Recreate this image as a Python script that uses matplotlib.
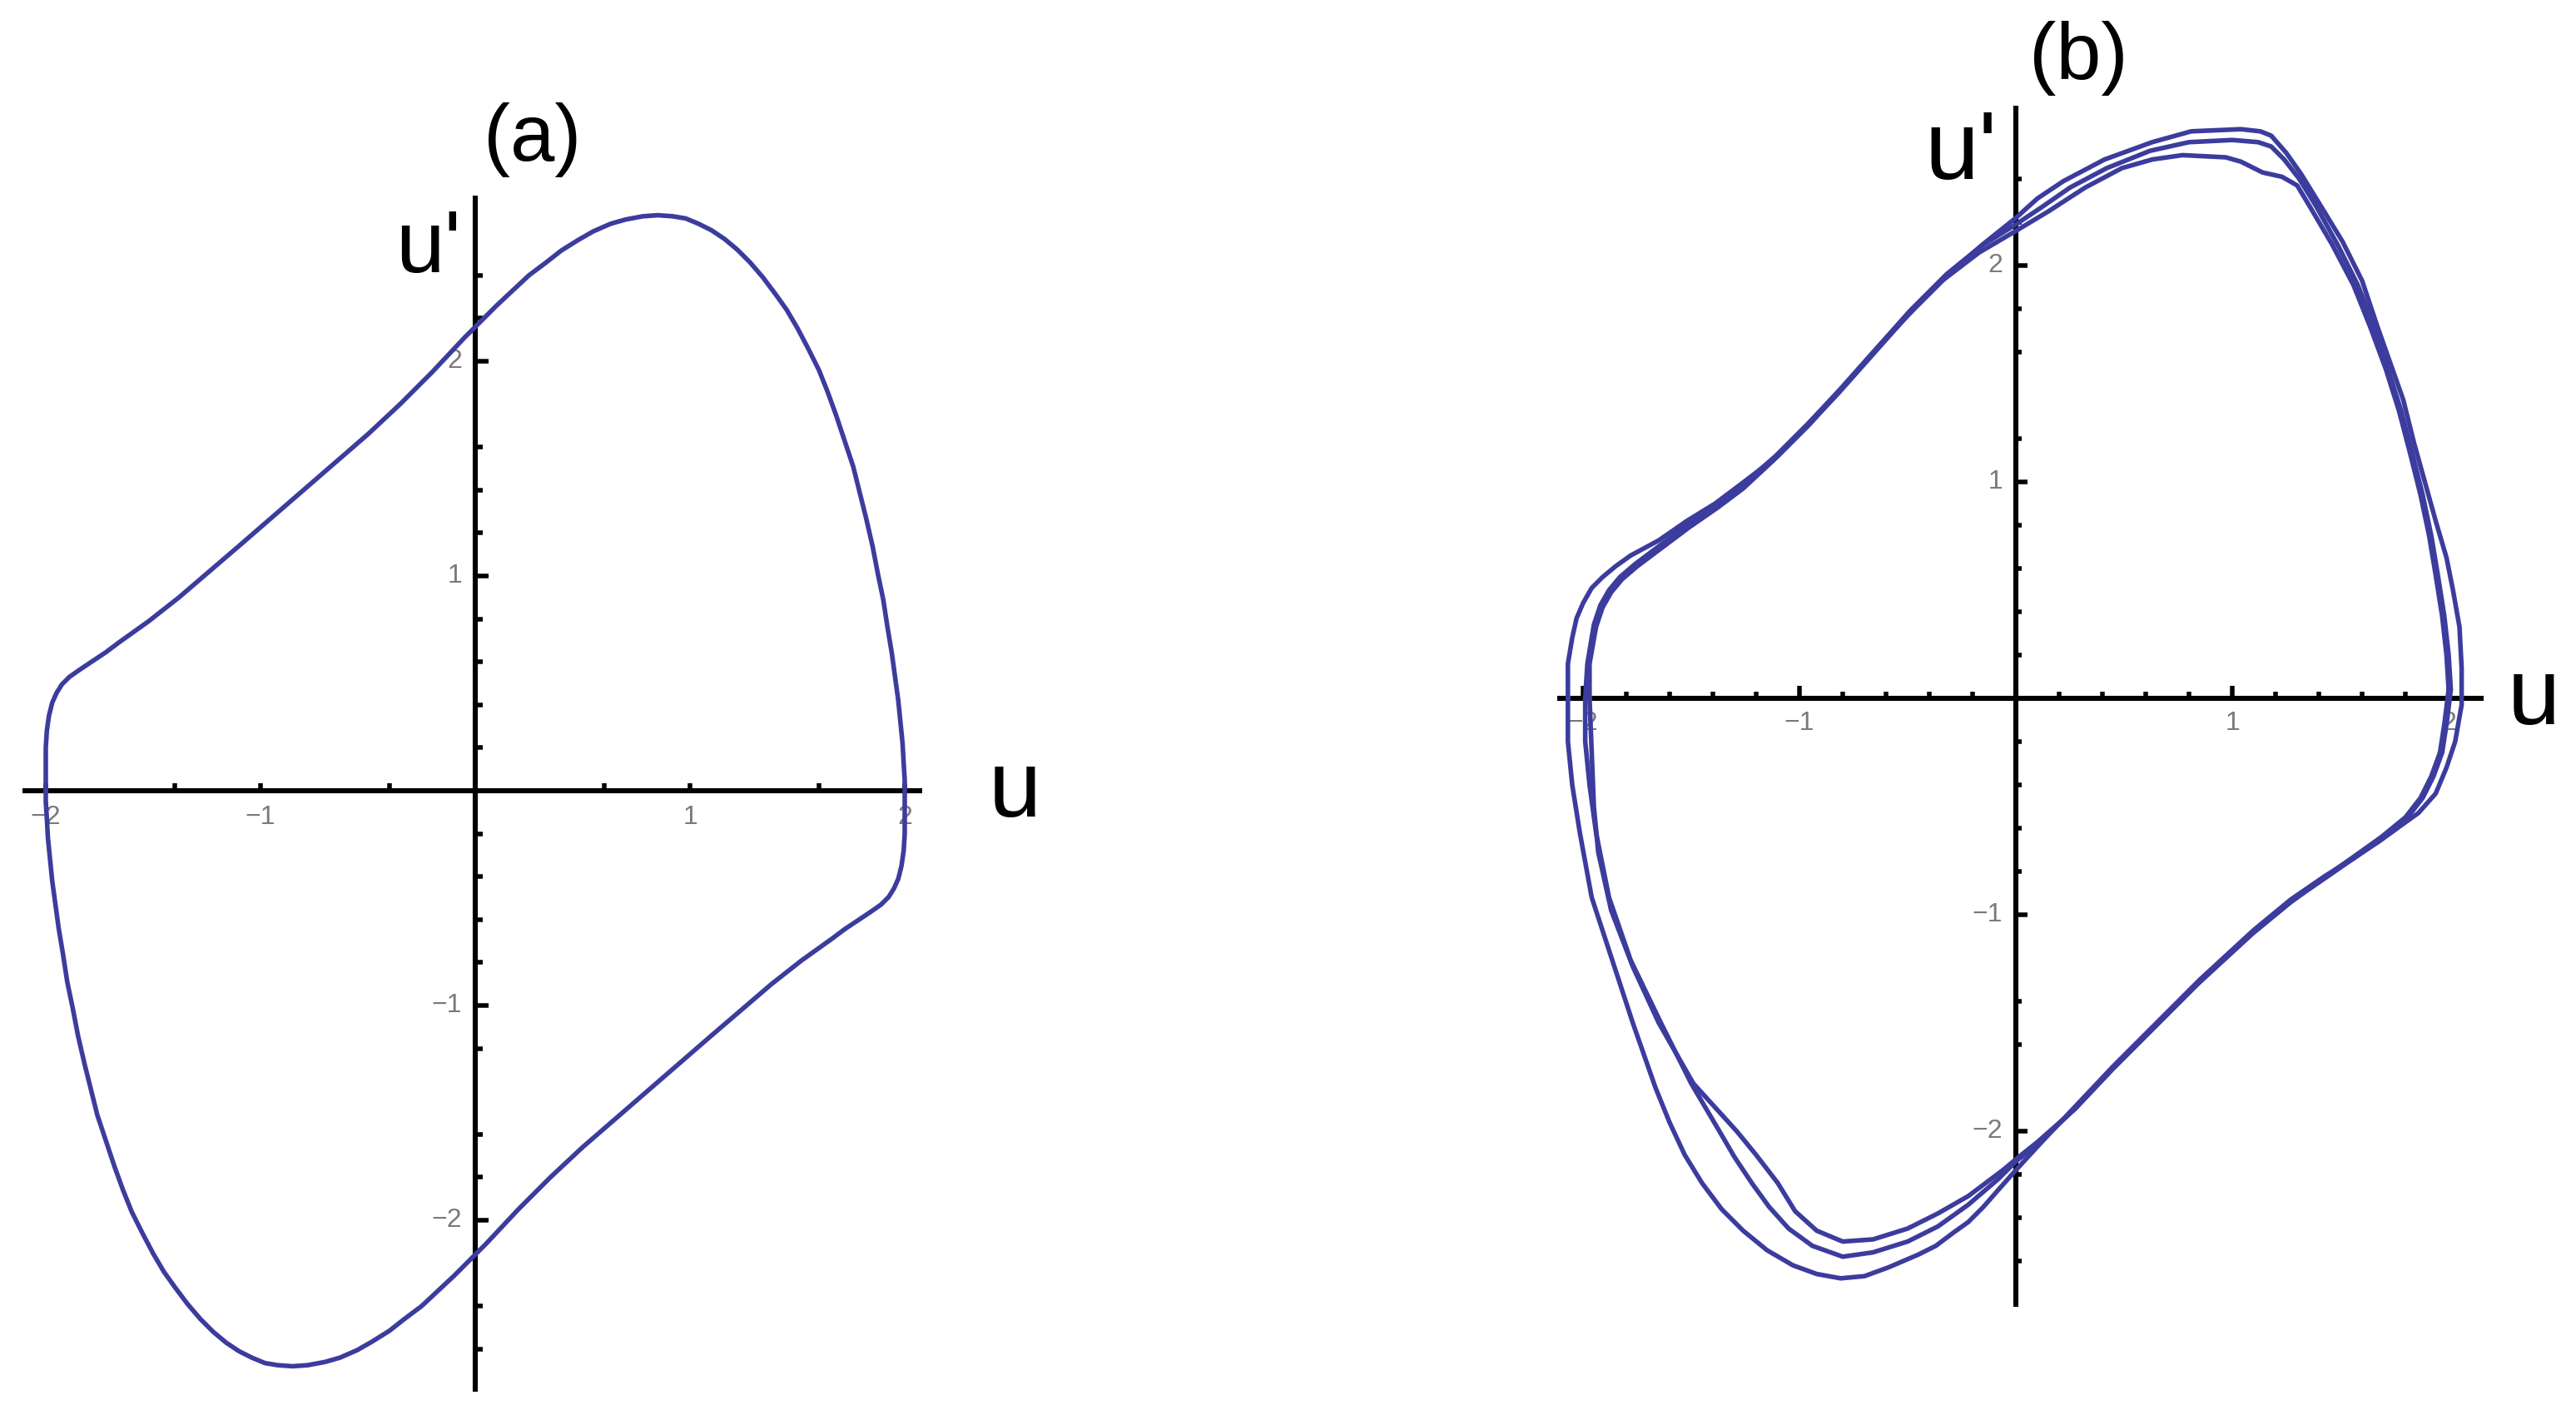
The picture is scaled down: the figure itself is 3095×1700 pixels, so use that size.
import matplotlib
matplotlib.use("Agg")
import matplotlib.pyplot as plt

# ---------------- data ----------------
# panel (a): single closed orbit (u, u')
a_u = [-2.00, -2.00, -2.00, -1.995, -1.985, -1.97, -1.95, -1.925, -1.89, -1.84,
       -1.78, -1.72, -1.66, -1.59, -1.52, -1.45, -1.38, -1.24, -1.10, -0.95,
       -0.80, -0.65, -0.50, -0.35, -0.20, -0.05, 0.10, 0.25, 0.33, 0.40,
       0.48, 0.55, 0.63, 0.70, 0.78, 0.85, 0.92, 0.98, 1.04, 1.10,
       1.16, 1.22, 1.28, 1.34, 1.40, 1.45, 1.50, 1.55, 1.60, 1.64,
       1.68, 1.72, 1.76, 1.79, 1.82, 1.85, 1.875, 1.90, 1.92, 1.94,
       1.955, 1.97, 1.98, 1.99, 1.995, 2.00,
       2.00, 2.00, 2.00, 1.995, 1.985, 1.97, 1.95, 1.925, 1.89, 1.84,
       1.78, 1.72, 1.66, 1.59, 1.52, 1.45, 1.38, 1.24, 1.10, 0.95,
       0.80, 0.65, 0.50, 0.35, 0.20, 0.05, -0.10, -0.25, -0.33, -0.40,
       -0.48, -0.55, -0.63, -0.70, -0.78, -0.85, -0.92, -0.98, -1.04, -1.10,
       -1.16, -1.22, -1.28, -1.34, -1.40, -1.45, -1.50, -1.55, -1.60, -1.64,
       -1.68, -1.72, -1.76, -1.79, -1.82, -1.85, -1.875, -1.90, -1.92, -1.94,
       -1.955, -1.97, -1.98, -1.99, -1.995, -2.00, -2.00]
a_v = [0.00, 0.10, 0.20, 0.28, 0.35, 0.41, 0.455, 0.495, 0.53, 0.565,
       0.605, 0.645, 0.69, 0.74, 0.79, 0.845, 0.90, 1.02, 1.14, 1.27,
       1.40, 1.53, 1.66, 1.80, 1.95, 2.11, 2.26, 2.40, 2.46, 2.515,
       2.565, 2.605, 2.64, 2.66, 2.675, 2.68, 2.675, 2.665, 2.64, 2.61,
       2.57, 2.52, 2.46, 2.39, 2.31, 2.24, 2.155, 2.06, 1.96, 1.86,
       1.75, 1.63, 1.51, 1.39, 1.27, 1.14, 1.01, 0.89, 0.76, 0.64,
       0.53, 0.42, 0.32, 0.22, 0.13, 0.05,
       0.00, -0.10, -0.20, -0.28, -0.35, -0.41, -0.455, -0.495, -0.53, -0.565,
       -0.605, -0.645, -0.69, -0.74, -0.79, -0.845, -0.90, -1.02, -1.14, -1.27,
       -1.40, -1.53, -1.66, -1.80, -1.95, -2.11, -2.26, -2.40, -2.46, -2.515,
       -2.565, -2.605, -2.64, -2.66, -2.675, -2.68, -2.675, -2.665, -2.64, -2.61,
       -2.57, -2.52, -2.46, -2.39, -2.31, -2.24, -2.155, -2.06, -1.96, -1.86,
       -1.75, -1.63, -1.51, -1.39, -1.27, -1.14, -1.01, -0.89, -0.76, -0.64,
       -0.53, -0.42, -0.32, -0.22, -0.13, -0.05, 0.00]

# panel (b): three nearly coincident loops
b1_u = [-2.07, -2.07, -2.05, -2.03, -2.00, -1.96, -1.91, -1.85, -1.78, -1.65,
        -1.52, -1.39, -1.27, -1.10, -0.95, -0.80, -0.64, -0.47, -0.30, -0.15,
        0.00, 0.10, 0.22, 0.41, 0.63, 0.81, 1.04, 1.13, 1.18, 1.25,
        1.32, 1.40, 1.51, 1.60, 1.67, 1.73, 1.79, 1.84, 1.89, 1.94,
        1.99, 2.02, 2.05, 2.06, 2.06, 2.03, 1.99, 1.94, 1.86, 1.79,
        1.68, 1.56, 1.43, 1.27, 1.10, 0.85, 0.65, 0.45, 0.28, 0.11,
        0.00, -0.08, -0.15, -0.22, -0.29, -0.37, -0.45, -0.59, -0.70, -0.81,
        -0.92, -1.03, -1.15, -1.26, -1.36, -1.45, -1.53, -1.60, -1.665, -1.77,
        -1.865, -1.96, -2.015, -2.05, -2.07, -2.07]
b1_v = [0.00, 0.16, 0.28, 0.37, 0.44, 0.51, 0.56, 0.61, 0.66, 0.73,
        0.82, 0.90, 0.99, 1.12, 1.27, 1.44, 1.62, 1.80, 1.97, 2.10,
        2.22, 2.31, 2.39, 2.49, 2.57, 2.62, 2.63, 2.62, 2.60, 2.52,
        2.42, 2.29, 2.11, 1.93, 1.72, 1.55, 1.38, 1.18, 1.00, 0.82,
        0.65, 0.50, 0.33, 0.14, -0.03, -0.20, -0.32, -0.44, -0.53, -0.58,
        -0.66, -0.74, -0.82, -0.93, -1.07, -1.30, -1.50, -1.70, -1.88, -2.06,
        -2.18, -2.27, -2.35, -2.42, -2.47, -2.53, -2.57, -2.63, -2.67, -2.68,
        -2.66, -2.62, -2.55, -2.46, -2.36, -2.24, -2.11, -1.96, -1.80, -1.50,
        -1.21, -0.92, -0.62, -0.40, -0.20, 0.00]

b2_u = [-1.99, -1.98, -1.95, -1.92, -1.88, -1.83, -1.76, -1.64, -1.52, -1.39,
        -1.27, -1.11, -0.96, -0.81, -0.65, -0.49, -0.32, -0.16, 0.00, 0.12,
        0.25, 0.42, 0.62, 0.80, 1.00, 1.12, 1.18, 1.24, 1.31, 1.39,
        1.49, 1.58, 1.66, 1.72, 1.78, 1.83, 1.88, 1.92, 1.95, 1.98,
        2.00, 2.01, 1.99, 1.97, 1.93, 1.88, 1.81, 1.70, 1.56, 1.43,
        1.27, 1.10, 0.85, 0.65, 0.45, 0.28, 0.11, 0.00, -0.08, -0.22,
        -0.36, -0.50, -0.66, -0.80, -0.94, -1.05, -1.14, -1.22, -1.30, -1.37,
        -1.50, -1.64, -1.78, -1.88, -1.94, -1.97, -1.99, -1.99]
b2_v = [0.00, 0.16, 0.34, 0.43, 0.50, 0.56, 0.62, 0.71, 0.80, 0.89,
        0.98, 1.12, 1.27, 1.43, 1.61, 1.79, 1.96, 2.09, 2.19, 2.27,
        2.36, 2.45, 2.53, 2.57, 2.58, 2.57, 2.55, 2.49, 2.40, 2.27,
        2.09, 1.91, 1.71, 1.52, 1.33, 1.14, 0.94, 0.75, 0.57, 0.38,
        0.20, 0.04, -0.12, -0.25, -0.36, -0.46, -0.55, -0.64, -0.74, -0.83,
        -0.94, -1.08, -1.31, -1.51, -1.71, -1.89, -2.05, -2.14, -2.22, -2.34,
        -2.44, -2.51, -2.56, -2.58, -2.53, -2.45, -2.35, -2.24, -2.12, -2.00,
        -1.78, -1.50, -1.21, -0.92, -0.62, -0.40, -0.20, 0.00]

b3_u = [-1.97, -1.97, -1.94, -1.91, -1.87, -1.82, -1.75, -1.63, -1.51, -1.38,
        -1.26, -1.12, -0.97, -0.82, -0.66, -0.50, -0.34, -0.17, 0.00, 0.15,
        0.32, 0.49, 0.63, 0.77, 0.97, 1.04, 1.14, 1.23, 1.30, 1.36,
        1.46, 1.56, 1.64, 1.71, 1.77, 1.82, 1.87, 1.91, 1.94, 1.97,
        1.99, 2.00, 1.98, 1.96, 1.92, 1.87, 1.80, 1.69, 1.55, 1.42,
        1.26, 1.09, 0.84, 0.64, 0.44, 0.27, 0.10, 0.00, -0.06, -0.22,
        -0.36, -0.50, -0.66, -0.80, -0.92, -1.02, -1.10, -1.20, -1.29, -1.49,
        -1.65, -1.77, -1.87, -1.93, -1.95, -1.96, -1.97]
b3_v = [0.00, 0.16, 0.33, 0.42, 0.49, 0.55, 0.61, 0.70, 0.79, 0.88,
        0.97, 1.10, 1.25, 1.41, 1.59, 1.77, 1.93, 2.06, 2.16, 2.25,
        2.36, 2.45, 2.49, 2.51, 2.50, 2.48, 2.43, 2.41, 2.37, 2.27,
        2.10, 1.91, 1.71, 1.52, 1.33, 1.14, 0.94, 0.75, 0.57, 0.38,
        0.20, 0.04, -0.12, -0.25, -0.36, -0.46, -0.55, -0.64, -0.74, -0.83,
        -0.95, -1.09, -1.32, -1.52, -1.72, -1.90, -2.05, -2.13, -2.18, -2.30,
        -2.38, -2.45, -2.50, -2.51, -2.46, -2.37, -2.24, -2.11, -2.00, -1.78,
        -1.50, -1.24, -0.98, -0.71, -0.50, -0.25, 0.00]

# ticks and tick labels
a_xticks_major = [-2, -1, 1, 2]
a_xticks_minor = [-1.4, -0.4, 0.6, 1.6]
a_yticks_major = [2, 1, -1, -2]
a_yticks_minor = [2.4, 2.2, 1.6, 1.4, 1.2, 0.8, 0.6, 0.4, 0.2,
                  -0.2, -0.4, -0.6, -0.8, -1.2, -1.6, -1.8, -2.4, -2.6]
b_xticks_major = [-2, -1, 1, 2]
b_xticks_minor = [-1.8, -1.6, -1.4, -1.2, -0.8, -0.6, -0.4, -0.2,
                  0.2, 0.4, 0.6, 0.8, 1.2, 1.4, 1.6, 1.8]
b_yticks_major = [2, 1, -1, -2]
b_yticks_minor = [2.4, 2.2, 1.8, 1.6, 1.2, 0.8, 0.6, 0.4, 0.2,
                  -0.2, -0.4, -0.6, -0.8, -1.4, -1.6, -2.2, -2.4, -2.6]
tick_values = [-2, -1, 1, 2]
tick_texts = ["\u22122", "\u22121", "1", "2"]

# ---------------- drawing ----------------
W, H = 3095, 1700
DPI = 100
fig = plt.figure(figsize=(W / DPI, H / DPI), dpi=DPI)
fig.patch.set_facecolor("white")

CURVE = "#3c3c9e"
FONT = ["Liberation Sans", "DejaVu Sans"]


def panel(ox, oy, unit, xr, yr, xmaj, xmin_, ymaj, ymin_, xmaj_len, xmin_len,
          ymaj_len, ymin_len, lab_y, lab_x):
    ax = fig.add_axes([0, 0, 1, 1])
    ax.set_xlim(-ox / unit, (W - ox) / unit)
    ax.set_ylim(-(H - oy) / unit, oy / unit)
    ax.axis("off")
    ax.patch.set_alpha(0)
    lw = 4.4
    ax.plot(xr, [0, 0], color="black", lw=lw, solid_capstyle="butt", zorder=2)
    ax.plot([0, 0], yr, color="black", lw=lw, solid_capstyle="butt", zorder=2)
    ax.vlines(xmaj, 0, xmaj_len / unit, color="black", lw=lw * 0.9, zorder=2)
    ax.vlines(xmin_, 0, xmin_len / unit, color="black", lw=lw * 0.9, zorder=2)
    ax.hlines(ymaj, 0, ymaj_len / unit, color="black", lw=lw * 0.9, zorder=2)
    ax.hlines(ymin_, 0, ymin_len / unit, color="black", lw=lw * 0.9, zorder=2)
    for v, t in zip(tick_values, tick_texts):
        ax.text(v, lab_y, t, ha="center", va="baseline", fontsize=23,
                color="#7a7a7a", family=FONT, zorder=1)
        ax.text(lab_x, v, t, ha="right", va="center", fontsize=23,
                color="#7a7a7a", family=FONT, zorder=1)
    return ax


ax_a = panel(571, 950, 258, [-2.11, 2.08], [-2.80, 2.77],
             a_xticks_major, a_xticks_minor, a_yticks_major, a_yticks_minor,
             9, 9, 16, 9, -0.155, -0.062)
ax_a.plot(a_u, a_v, color=CURVE, lw=4.0, solid_joinstyle="round", zorder=3)
ax_a.text(0.267, 2.934, "(a)", ha="center", va="baseline", fontsize=69,
          family=FONT, color="black")
ax_a.text(-0.372, 2.415, "u'", ha="left", va="baseline", fontsize=76,
          family=FONT, color="black")
ax_a.text(2.512, -0.12, "u", ha="center", va="baseline", fontsize=82,
          family=FONT, color="black")

ax_b = panel(2422, 839, 260, [-2.12, 2.16], [-2.81, 2.74],
             b_xticks_major, b_xticks_minor, b_yticks_major, b_yticks_minor,
             15, 8, 14, 7, -0.146, -0.062)
for uu, vv in [(b1_u, b1_v), (b2_u, b2_v), (b3_u, b3_v)]:
    ax_b.plot(uu, vv, color=CURVE, lw=4.0, solid_joinstyle="round", zorder=3)
ax_b.text(0.288, 2.862, "(b)", ha="center", va="baseline", fontsize=70,
          family=FONT, color="black")
ax_b.text(-0.423, 2.40, "u'", ha="left", va="baseline", fontsize=84,
          family=FONT, color="black")
ax_b.text(2.392, -0.119, "u", ha="center", va="baseline", fontsize=82,
          family=FONT, color="black")

fig.savefig("out.png", dpi=DPI, facecolor="white")
